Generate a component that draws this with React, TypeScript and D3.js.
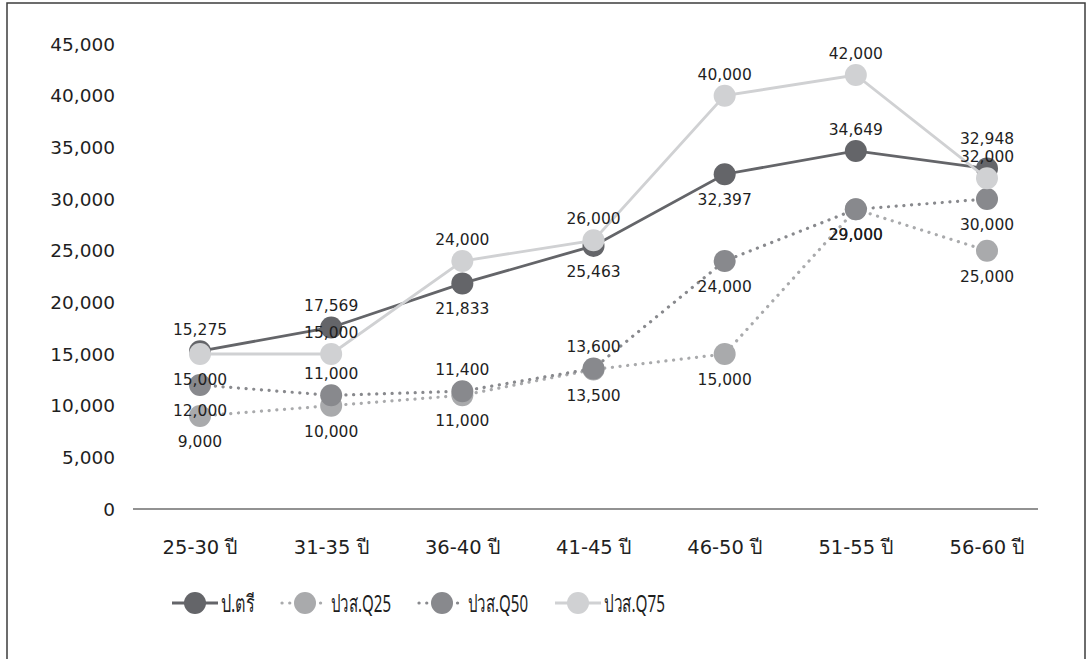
import React from "react";
import * as d3 from "d3";

const categories = ["25-30 ปี", "31-35 ปี", "36-40 ปี", "41-45 ปี", "46-50 ปี", "51-55 ปี", "56-60 ปี"];
const seriesNames = ["ป.ตรี", "ปวส.Q25", "ปวส.Q50", "ปวส.Q75"];
const bachelor = [15275, 17569, 21833, 25463, 32397, 34649, 32948];
const vocQ25 = [9000, 10000, 11000, 13500, 15000, 29000, 25000];
const vocQ50 = [12000, 11000, 11400, 13600, 24000, 29000, 30000];
const vocQ75 = [15000, 15000, 24000, 26000, 40000, 42000, 32000];
const yTicks = [0, 5000, 10000, 15000, 20000, 25000, 30000, 35000, 40000, 45000];
// label placement per point (a = above, A = further above, b = below)
const bachelorLabelPos = ["a", "a", "b", "b", "b", "a", "A"];
const q25LabelPos = ["b", "b", "b", "b", "b", "b", "b"];
const q50LabelPos = ["b", "a", "a", "a", "b", "b", "b"];
const q75LabelPos = ["b", "a", "a", "a", "a", "a", "a"];

const W = 1087;
const H = 659;
const FONT = "'DejaVu Sans', Tahoma, Verdana, sans-serif";
const LEGEND_FONT = "'Liberation Sans Narrow', 'Noto Sans', sans-serif";

const seriesStyles = [
  { color: "#646569", dotted: false },
  { color: "#a9aaac", dotted: true },
  { color: "#88898d", dotted: true },
  { color: "#d0d1d3", dotted: false },
];

const labelOffset: Record<string, number> = { a: -16, A: -25, b: 31 };
const legendTextWidths = [34, 60, 60, 61];

export default function App() {
  const x = d3.scalePoint<string>().domain(categories).range([200, 987]);
  const y = d3.scaleLinear().domain([0, 45000]).range([509, 44]);
  const fmt = d3.format(",");
  const line = d3
    .line<number>()
    .x((_, i) => x(categories[i]) as number)
    .y((d) => y(d));

  const series = [
    { name: seriesNames[0], values: bachelor, pos: bachelorLabelPos, ...seriesStyles[0] },
    { name: seriesNames[1], values: vocQ25, pos: q25LabelPos, ...seriesStyles[1] },
    { name: seriesNames[2], values: vocQ50, pos: q50LabelPos, ...seriesStyles[2] },
    { name: seriesNames[3], values: vocQ75, pos: q75LabelPos, ...seriesStyles[3] },
  ];

  const legendX = [172, 282, 419, 555];
  const legendY = 603;

  return (
    <svg width={W} height={H} style={{ position: "absolute", left: 0, top: 0 }}>
      <rect x={0} y={0} width={W} height={H} fill="#ffffff" />
      <rect x={7} y={3} width={1078} height={700} fill="none" stroke="#3c3c3c" strokeWidth={1.5} />
      {/* y tick labels */}
      {yTicks.map((t) => (
        <text key={t} x={115} y={y(t)} dy="0.36em" textAnchor="end" fontFamily={FONT} fontSize={18.5} fill="#1f1f1f">
          {fmt(t)}
        </text>
      ))}
      {/* x axis */}
      <line x1={133} x2={1038} y1={y(0)} y2={y(0)} stroke="#6e6e6e" strokeWidth={1.5} />
      {categories.map((c) => (
        <text key={c} x={x(c)} y={554} textAnchor="middle" fontFamily={FONT} fontSize={19.5} fill="#1f1f1f">
          {c}
        </text>
      ))}
      {/* series */}
      {series.map((s) => (
        <g key={s.name}>
          <path
            d={line(s.values) as string}
            fill="none"
            stroke={s.color}
            strokeWidth={s.dotted ? 3.2 : 2.8}
            strokeDasharray={s.dotted ? "0.1 7.6" : undefined}
            strokeLinecap={s.dotted ? "round" : "butt"}
          />
          {s.values.map((v, i) => (
            <circle key={i} cx={x(categories[i])} cy={y(v)} r={11} fill={s.color} />
          ))}
        </g>
      ))}
      {/* data labels */}
      {series.map((s) => (
        <g key={s.name + "-lbl"}>
          {s.values.map((v, i) => (
            <text
              key={i}
              x={x(categories[i])}
              y={y(v) + labelOffset[s.pos[i]]}
              textAnchor="middle"
              fontFamily={FONT}
              fontSize={15.5}
              fill="#1f1f1f"
            >
              {fmt(v)}
            </text>
          ))}
        </g>
      ))}
      {/* legend */}
      {series.map((s, i) => (
        <g key={s.name + "-leg"} transform={`translate(${legendX[i]},${legendY})`}>
          <line
            x1={0}
            x2={46}
            y1={0}
            y2={0}
            stroke={s.color}
            strokeWidth={s.dotted ? 3.2 : 2.8}
            strokeDasharray={s.dotted ? "0.1 7.6" : undefined}
            strokeLinecap={s.dotted ? "round" : "butt"}
          />
          <circle cx={23} cy={0} r={11} fill={s.color} />
          <text
            x={49}
            y={0}
            dy="0.36em"
            fontFamily={LEGEND_FONT}
            fontSize={24}
            fill="#1f1f1f"
            textLength={legendTextWidths[i]}
            lengthAdjust="spacingAndGlyphs"
          >
            {s.name}
          </text>
        </g>
      ))}
    </svg>
  );
}
